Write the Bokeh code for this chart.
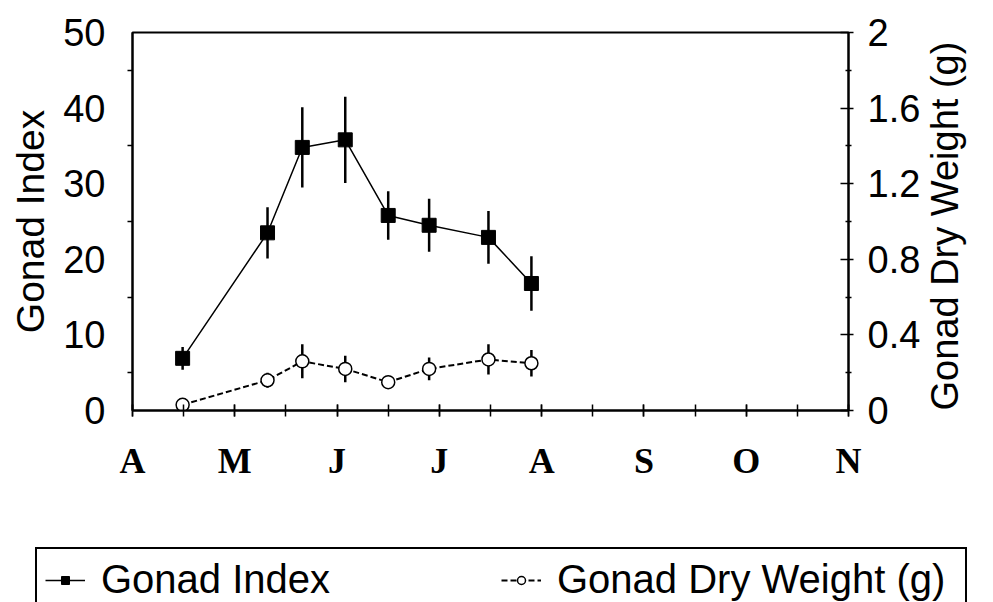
import math
from bokeh.plotting import figure
from bokeh.layouts import column
from bokeh.models import Range1d, LinearAxis, FixedTicker, Legend, LegendItem
from bokeh.embed import file_html
from bokeh.resources import INLINE

# ---- data ----
month_labels = ["A", "M", "J", "J", "A", "S", "O", "N"]
month_pos = [0, 1, 2, 3, 4, 5, 6, 7]
sample_month = [0.49, 1.32, 1.66, 2.08, 2.50, 2.90, 3.48, 3.90]
gonad_index = [6.9, 23.5, 34.8, 35.8, 25.8, 24.5, 22.9, 16.8]
gonad_index_err = [1.5, 3.4, 5.3, 5.7, 3.2, 3.5, 3.5, 3.6]
dry_weight = [0.03, 0.16, 0.26, 0.22, 0.15, 0.22, 0.27, 0.25]
dry_weight_err = [0.01, 0.04, 0.09, 0.07, 0.03, 0.06, 0.08, 0.07]
gi_ticks = [0, 10, 20, 30, 40, 50]
dw_ticks = [0, 0.4, 0.8, 1.2, 1.6, 2]
dw_tick_labels = ["0", "0.4", "0.8", "1.2", "1.6", "2"]

gi_lo = [v - e for v, e in zip(gonad_index, gonad_index_err)]
gi_hi = [v + e for v, e in zip(gonad_index, gonad_index_err)]
dw_lo = [v - e for v, e in zip(dry_weight, dry_weight_err)]
dw_hi = [v + e for v, e in zip(dry_weight, dry_weight_err)]

SANS = "Liberation Sans"
SERIF = "Liberation Serif"

p = figure(width=993, height=530, output_backend="svg", toolbar_location=None,
           x_range=Range1d(0, 7), y_range=Range1d(0, 50),
           min_border_left=132, min_border_right=145,
           min_border_top=32, min_border_bottom=120)
p.extra_y_ranges = {"dw": Range1d(0, 2)}
p.xgrid.visible = False
p.ygrid.visible = False
p.outline_line_color = "black"
p.outline_line_width = 2
p.background_fill_color = "white"
p.border_fill_color = "white"

# x axis
xa = p.xaxis[0]
xa.ticker = FixedTicker(ticks=month_pos, minor_ticks=[i * 0.5 for i in range(15)])
xa.major_label_overrides = {m: l for m, l in zip(month_pos, month_labels)}
xa.major_label_text_font = SERIF
xa.major_label_text_font_style = "bold"
xa.major_label_text_font_size = "36px"
xa.major_label_text_color = "black"
xa.major_label_standoff = 24
xa.axis_line_width = 2
xa.axis_line_color = "black"
xa.major_tick_in = 6
xa.major_tick_out = 6
xa.minor_tick_in = 6
xa.minor_tick_out = 6
xa.major_tick_line_width = 1.5
xa.minor_tick_line_width = 1.5
xa.major_tick_line_color = "black"
xa.minor_tick_line_color = "black"

# left axis
ya = p.yaxis[0]
ya.ticker = FixedTicker(ticks=gi_ticks, minor_ticks=[5, 15, 25, 35, 45])
ya.major_label_text_font = SANS
ya.major_label_text_font_size = "38px"
ya.major_label_text_color = "black"
ya.major_label_standoff = 22
ya.major_tick_in = 0
ya.major_tick_out = 0
ya.minor_tick_in = 0
ya.minor_tick_out = 5
ya.minor_tick_line_color = "black"
ya.minor_tick_line_width = 1.5
ya.axis_line_width = 2
ya.axis_line_color = "black"
ya.axis_label = "Gonad Index"
ya.axis_label_text_font = SANS
ya.axis_label_text_font_style = "normal"
ya.axis_label_text_font_size = "39px"
ya.axis_label_text_color = "black"
ya.axis_label_standoff = 8

# right axis
ra = LinearAxis(y_range_name="dw",
                ticker=FixedTicker(ticks=dw_ticks, minor_ticks=[0.2, 0.6, 1.0, 1.4, 1.8]))
ra.major_label_overrides = {t: l for t, l in zip(dw_ticks, dw_tick_labels)}
ra.major_label_text_font = SANS
ra.major_label_text_font_size = "38px"
ra.major_label_text_color = "black"
ra.major_label_standoff = 14
ra.major_tick_in = 8
ra.major_tick_out = 5
ra.minor_tick_in = 3
ra.minor_tick_out = 3
ra.major_tick_line_width = 1.5
ra.minor_tick_line_width = 1.5
ra.major_tick_line_color = "black"
ra.minor_tick_line_color = "black"
ra.axis_line_width = 2
ra.axis_line_color = "black"
ra.axis_label = "Gonad Dry Weight (g)"
ra.axis_label_text_font = SANS
ra.axis_label_text_font_style = "normal"
ra.axis_label_text_font_size = "38px"
ra.axis_label_text_color = "black"
ra.axis_label_standoff = 22
if "axis_label_orientation" in ra.properties():
    ra.axis_label_orientation = math.pi / 2
if "axis_label_align" in ra.properties():
    ra.axis_label_align = "start"
p.add_layout(ra, "right")

# error bars
p.segment(x0=sample_month, y0=gi_lo, x1=sample_month, y1=gi_hi,
          line_color="black", line_width=2.5)
p.segment(x0=sample_month, y0=dw_lo, x1=sample_month, y1=dw_hi,
          line_color="black", line_width=2.5, y_range_name="dw")

# series
p.line(sample_month, gonad_index, line_color="black", line_width=1.5)
p.scatter(sample_month, gonad_index, marker="square", size=14,
          fill_color="black", line_color="black")
p.line(sample_month, dry_weight, line_color="black", line_width=2,
       line_dash="6 3", y_range_name="dw")
p.scatter(sample_month, dry_weight, marker="circle", size=13,
          fill_color="white", line_color="black", line_width=1.5,
          y_range_name="dw")

# ---- legend strip: a separate, axis-less figure so the box spans the full width ----
lg = figure(width=993, height=72, output_backend="svg", toolbar_location=None,
            x_range=Range1d(-20, -19), y_range=Range1d(-20, -19),
            x_axis_location=None, y_axis_location=None,
            min_border=0, min_border_left=0, min_border_right=0,
            min_border_top=0, min_border_bottom=0)
if "frame_align" in lg.properties():
    lg.frame_align = False
lg.xgrid.visible = False
lg.ygrid.visible = False
lg.outline_line_color = None
lg.border_fill_color = "white"
# same series, out of this strip's view: only their legend glyphs are shown
lg_gi_line = lg.line(sample_month, gonad_index, line_color="black", line_width=1.5)
lg_gi_pts = lg.scatter(sample_month, gonad_index, marker="square", size=14,
                       fill_color="black", line_color="black")
lg_dw_line = lg.line(sample_month, dry_weight, line_color="black", line_width=2,
                     line_dash="6 3")
lg_dw_pts = lg.scatter(sample_month, dry_weight, marker="circle", size=12,
                       fill_color="white", line_color="black", line_width=1.5)

legend = Legend(items=[LegendItem(label="Gonad Index", renderers=[lg_gi_line, lg_gi_pts]),
                       LegendItem(label="Gonad Dry Weight (g)", renderers=[lg_dw_line, lg_dw_pts])],
                orientation="horizontal", location=(35, -10),
                label_text_font=SANS, label_text_font_size="40px",
                label_text_color="black", label_width=400,
                glyph_width=40, glyph_height=20, label_standoff=16,
                spacing=0, padding=8, margin=0,
                border_line_color="black", border_line_width=2, border_line_alpha=1,
                background_fill_color="white", background_fill_alpha=1)
lg.add_layout(legend, "center")

layout = column(p, lg, spacing=0)
open("out.html", "w").write(file_html(layout, INLINE))
